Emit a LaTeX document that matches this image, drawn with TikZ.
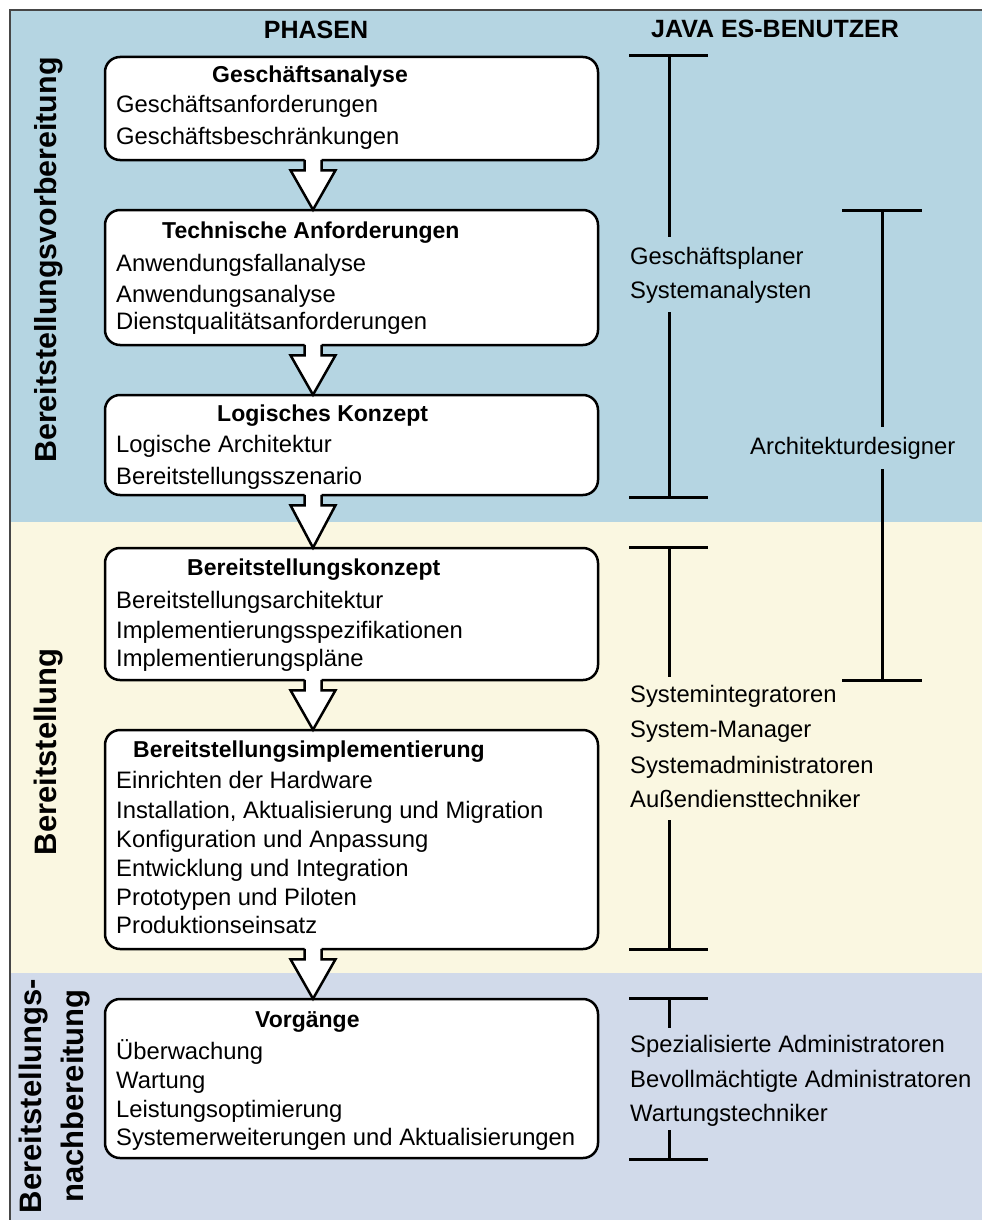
\documentclass[tikz,border=0pt]{standalone}
\usepackage{fontspec}
\setmainfont{Liberation Sans}
\usetikzlibrary{calc}

\definecolor{prepblue}{RGB}{181,213,226}
\definecolor{depyellow}{RGB}{250,247,225}
\definecolor{postblue}{RGB}{209,218,234}
\definecolor{framegray}{RGB}{70,70,70}

% block arrow from the bottom of one phase box to the top of the next
\newcommand\phasearrow[2]{%
  \path (#1.south -| ax) coordinate (s) (#2.north -| ax) coordinate (t);
  \fill[white] ($(s)+(-8.5,-4)$) -- ($(s)+(-8.5,9)$) -- ($(s)+(-22.5,9)$) -- ($(t)+(0,1)$)
    -- ($(s)+(22.5,9)$) -- ($(s)+(8.5,9)$) -- ($(s)+(8.5,-4)$) -- cycle;
  \draw[arrowline] ($(s)+(-8.5,-1.5)$) -- ($(s)+(-8.5,9)$) -- ($(s)+(-22.5,9)$) -- ($(t)+(0,1)$)
    -- ($(s)+(22.5,9)$) -- ($(s)+(8.5,9)$) -- ($(s)+(8.5,-1.5)$);
}

\begin{document}
\begin{tikzpicture}[x=1pt,y=-1pt,
  phasebox/.style={draw=black, line width=2.5pt, rounded corners=15pt, fill=white,
    minimum width=493pt, inner sep=0pt},
  boxtitle/.style={anchor=base west, inner sep=0pt, font=\fontsize{23}{28}\selectfont\bfseries},
  boxline/.style={anchor=base west, inner sep=0pt, font=\fontsize{23.8}{28}\selectfont},
  header/.style={anchor=base, inner sep=0pt, font=\fontsize{25}{30}\selectfont\bfseries},
  stagelabel/.style={rotate=90, inner sep=0pt, font=\fontsize{31}{42}\selectfont\bfseries, align=center},
  userline/.style={anchor=base west, inner sep=0pt, font=\fontsize{23.8}{28}\selectfont},
  bar/.style={line width=3pt, black},
  arrowline/.style={draw=black, line width=2.5pt, line join=miter},
]
\useasboundingbox (0,0) rectangle (982,1220);
\fill[white] (0,0) rectangle (982,1220);

% stage bands
\fill[prepblue]  (10,10)  rectangle (982,522);
\fill[depyellow] (10,522) rectangle (982,973);
\fill[postblue]  (10,973) rectangle (982,1220);
\draw[framegray, line width=1.5pt] (10,1220) -- (10,10) -- (982,10);

% column headers
\node[header] (hphase) at (316,39) {PHASEN};
\node[header] (huser)  at (775,38) {JAVA ES-BENUTZER};

% stage labels
\node[stagelabel, anchor=base, font=\fontsize{30.4}{42}\selectfont\bfseries] (stprep) at (56,260) {Bereitstellungsvorbereitung};
\node[stagelabel, anchor=base] (stdep)  at (56,752) {Bereitstellung};
\node[stagelabel] (stpost) at (55,1096) {Bereitstellungs-\\nachbereitung};

% phase boxes
\node[phasebox, minimum height=103pt] (b1) at (351.5,108.5) {};
\node[phasebox, minimum height=135pt] (b2) at (351.5,277.5) {};
\node[phasebox, minimum height=100pt] (b3) at (351.5,445) {};
\node[phasebox, minimum height=132pt] (b4) at (351.5,614) {};
\node[phasebox, minimum height=219pt] (b5) at (351.5,839.5) {};
\node[phasebox, minimum height=159pt] (b6) at (351.5,1078.5) {};

% box contents
\node[boxtitle] (t1) at (212,83) {Geschäftsanalyse};
\node[boxline] at (116,113) {Geschäftsanforderungen};
\node[boxline] at (116,145) {Geschäftsbeschränkungen};

\node[boxtitle] (t2) at (162,238) {Technische Anforderungen};
\node[boxline] at (116,271) {Anwendungsfallanalyse};
\node[boxline] at (116,302) {Anwendungsanalyse};
\node[boxline] at (116,329) {Dienstqualitätsanforderungen};

\node[boxtitle] (t3) at (217,421) {Logisches Konzept};
\node[boxline] at (116,452) {Logische Architektur};
\node[boxline] at (116,484) {Bereitstellungsszenario};

\node[boxtitle] (t4) at (187,575) {Bereitstellungskonzept};
\node[boxline] at (116,608) {Bereitstellungsarchitektur};
\node[boxline] at (116,638) {Implementierungsspezifikationen};
\node[boxline] at (116,666) {Implementierungspläne};

\node[boxtitle] (t5) at (133,757) {Bereitstellungsimplementierung};
\node[boxline] at (116,788) {Einrichten der Hardware};
\node[boxline] at (116,818) {Installation, Aktualisierung und Migration};
\node[boxline] at (116,847) {Konfiguration und Anpassung};
\node[boxline] at (116,876) {Entwicklung und Integration};
\node[boxline] at (116,905) {Prototypen und Piloten};
\node[boxline] at (116,933) {Produktionseinsatz};

\node[boxtitle] (t6) at (255,1027) {Vorgänge};
\node[boxline] at (116,1059) {Überwachung};
\node[boxline] at (116,1088) {Wartung};
\node[boxline] at (116,1117) {Leistungsoptimierung};
\node[boxline] at (116,1145) {Systemerweiterungen und Aktualisierungen};

% arrows between phases
\coordinate (ax) at (313,0);
\phasearrow{b1}{b2}
\phasearrow{b2}{b3}
\phasearrow{b3}{b4}
\phasearrow{b4}{b5}
\phasearrow{b5}{b6}

% user groups
\node[userline] (u1a) at (630,264) {Geschäftsplaner};
\node[userline] (u1b) at (630,298) {Systemanalysten};
\node[userline] (u2)  at (750,454) {Architekturdesigner};
\node[userline] (u3a) at (630,702) {Systemintegratoren};
\node[userline] (u3b) at (630,737) {System-Manager};
\node[userline] (u3c) at (630,773) {Systemadministratoren};
\node[userline] (u3d) at (630,807) {Außendiensttechniker};
\node[userline] (u4a) at (630,1052) {Spezialisierte Administratoren};
\node[userline] (u4b) at (630,1087) {Bevollmächtigte Administratoren};
\node[userline] (u4c) at (630,1121) {Wartungstechniker};

% span brackets
\draw[bar] (629,56) -- (708,56) (669,56) -- (669,237);
\draw[bar] (669,312) -- (669,497) (629,497) -- (708,497);

\draw[bar] (842,210) -- (922,210) (882,210) -- (882,427);
\draw[bar] (882,469) -- (882,680) (842,680) -- (922,680);

\draw[bar] (629,547) -- (708,547) (669,547) -- (669,677);
\draw[bar] (669,820) -- (669,949) (629,949) -- (708,949);

\draw[bar] (629,998) -- (708,998) (669,998) -- (669,1028);
\draw[bar] (669,1130) -- (669,1159) (629,1159) -- (708,1159);
\end{tikzpicture}
\end{document}
